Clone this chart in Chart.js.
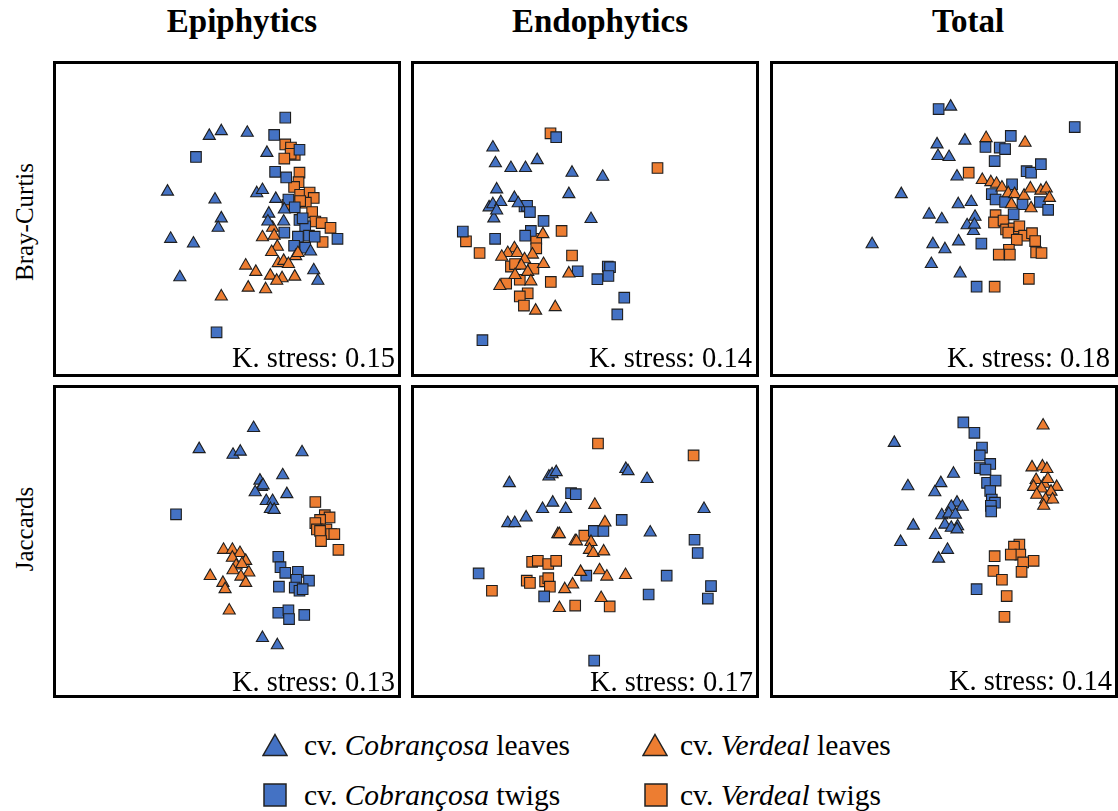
<!DOCTYPE html>
<html>
<head>
<meta charset="utf-8">
<script src="https://cdn.jsdelivr.net/npm/chart.js@4.4.1/dist/chart.umd.min.js"></script>
<style>
  html,body{margin:0;padding:0;background:#fff;}
  #wrap{position:relative;width:1118px;height:811px;overflow:hidden;font-family:'Liberation Serif','Times New Roman',serif;color:#000;}
  .panel{position:absolute;border:3px solid #000;box-sizing:border-box;background:#fff;}
  .panel canvas{display:block;}
  .title{position:absolute;top:5px;font-size:33px;line-height:33px;font-weight:bold;transform:translateX(-50%);white-space:nowrap;}
  .rowlab{position:absolute;font-size:25px;line-height:25px;white-space:nowrap;transform:translate(-50%,-50%) rotate(-90deg);}
  .stress{position:absolute;font-size:28.5px;line-height:28px;white-space:nowrap;text-align:right;}
  .leg{position:absolute;height:30px;display:flex;align-items:center;font-size:29.5px;line-height:30px;white-space:nowrap;}
  .leg svg{margin-right:16px;}
</style>
</head>
<body>
<div id="wrap">
  <div class="title" style="left:242px;">Epiphytics</div>
  <div class="title" style="left:600px;">Endophytics</div>
  <div class="title" style="left:968px;">Total</div>
  <div class="rowlab" style="left:24px;top:222px;">Bray-Curtis</div>
  <div class="rowlab" style="left:24px;top:529px;">Jaccards</div>

  <div class="panel" style="left:53px;top:61px;width:348px;height:316px;"><canvas id="c1" width="342" height="310"></canvas></div>
  <div class="panel" style="left:411px;top:61px;width:348px;height:316px;"><canvas id="c2" width="342" height="310"></canvas></div>
  <div class="panel" style="left:770px;top:61px;width:348px;height:316px;"><canvas id="c3" width="342" height="310"></canvas></div>
  <div class="panel" style="left:53px;top:385px;width:348px;height:313px;"><canvas id="c4" width="342" height="307"></canvas></div>
  <div class="panel" style="left:411px;top:385px;width:348px;height:313px;"><canvas id="c5" width="342" height="307"></canvas></div>
  <div class="panel" style="left:770px;top:385px;width:348px;height:313px;"><canvas id="c6" width="342" height="307"></canvas></div>

  <div class="stress" style="right:723px;top:344px;">K. stress: 0.15</div>
  <div class="stress" style="right:366px;top:344px;">K. stress: 0.14</div>
  <div class="stress" style="right:8px;top:344px;">K. stress: 0.18</div>
  <div class="stress" style="right:723px;top:668px;">K. stress: 0.13</div>
  <div class="stress" style="right:365px;top:668px;">K. stress: 0.17</div>
  <div class="stress" style="right:6px;top:667px;">K. stress: 0.14</div>

  <div class="leg" style="left:262px;top:730px;"><svg width="26" height="24"><polygon points="13,1.5 25,22.5 1,22.5" fill="#4472C4" stroke="#222" stroke-width="1.5"/></svg><span>cv. <i>Cobrançosa</i> leaves</span></div>
  <div class="leg" style="left:642px;top:730px;"><svg width="26" height="24" style="margin-right:12px"><polygon points="13,1.5 25,22.5 1,22.5" fill="#ED7D31" stroke="#222" stroke-width="1.5"/></svg><span>cv. <i>Verdeal</i> leaves</span></div>
  <div class="leg" style="left:263px;top:780px;"><svg width="24" height="24" style="margin-right:17px"><rect x="1" y="1" width="22" height="22" fill="#4472C4" stroke="#222" stroke-width="1.5"/></svg><span>cv. <i>Cobrançosa</i> twigs</span></div>
  <div class="leg" style="left:644px;top:780px;"><svg width="24" height="24" style="margin-right:12px"><rect x="1" y="1" width="22" height="22" fill="#ED7D31" stroke="#222" stroke-width="1.5"/></svg><span>cv. <i>Verdeal</i> twigs</span></div>
</div>

<script>
// NMDS scores (arbitrary units; x 0–102.6, y 0–93)
// Panel 1: Epiphytics / Bray-Curtis
const p1CobLeaves=[[45.7,72.9],[49.5,74.4],[57.7,73.9],[63.9,67.5],[32.5,55.2],[47.5,52.7],[60.7,54.7],[62.5,55.7],[66.7,52.9],[49.5,46.7],[48.5,43.7],[64.5,48.2],[64.2,45.7],[69.2,45.7],[69.4,49.5],[33.5,40.2],[40.7,38.7],[36.4,28.0],[78.7,30.2],[80.0,26.9],[77.7,36.2]];
const p1VerLeaves=[[65.7,43.7],[62.5,40.7],[66.2,41.2],[67.2,37.7],[65.4,36.0],[73.0,34.7],[73.7,35.7],[67.5,32.5],[69.2,33.2],[70.7,32.2],[57.2,31.7],[60.4,29.7],[65.0,28.5],[68.7,27.7],[72.7,28.2],[67.0,26.9],[58.0,24.7],[63.5,24.2],[49.5,21.9]];
const p1CobTwigs=[[69.7,78.7],[66.2,73.2],[41.5,66.2],[74.2,68.5],[66.5,61.5],[70.0,59.7],[70.7,52.7],[72.7,50.2],[74.2,46.2],[76.0,44.2],[69.4,42.2],[73.7,40.9],[77.2,41.2],[79.0,40.9],[72.5,38.0],[76.0,37.4],[86.2,40.2],[48.0,10.5],[75.2,46.7]];
const p1VerTwigs=[[69.7,70.2],[71.5,69.2],[72.7,66.9],[71.4,67.2],[69.4,65.7],[74.2,61.2],[73.9,58.2],[72.5,56.7],[74.4,54.2],[77.4,54.9],[78.7,53.2],[76.2,51.7],[70.4,51.0],[78.2,48.7],[79.2,45.7],[81.2,45.2],[84.0,43.7],[81.5,39.2],[74.4,52.2]];

// Panel 2: Endophytics / Bray-Curtis
const p2CobLeaves=[[22.2,69.2],[23.0,64.2],[27.9,62.7],[32.5,62.7],[36.2,65.2],[47.2,61.2],[56.9,59.9],[23.4,55.9],[46.2,54.4],[21.0,50.2],[22.2,51.2],[24.7,51.9],[29.0,53.2],[30.2,51.5],[22.5,46.7],[53.2,46.5],[23.4,49.2]];
const p2VerLeaves=[[38.0,41.7],[29.0,37.2],[26.9,35.7],[25.0,34.5],[29.9,35.7],[34.7,35.2],[38.2,32.2],[32.2,33.7],[31.2,31.7],[29.2,28.7],[33.2,29.7],[34.2,26.7],[24.4,25.2],[46.2,29.2],[35.7,17.4],[41.9,18.5]];
const p2CobTwigs=[[42.2,72.5],[12.7,42.5],[22.9,40.2],[32.2,50.5],[33.0,50.7],[33.9,48.7],[38.2,45.9],[34.2,42.7],[32.4,41.2],[49.0,29.9],[58.5,31.4],[59.2,31.2],[58.7,28.4],[55.2,27.4],[63.7,21.5],[61.5,16.2],[18.9,8.0]];
const p2VerTwigs=[[40.4,73.7],[74.2,62.7],[43.9,42.7],[13.7,39.4],[18.0,35.7],[35.9,40.2],[35.9,37.2],[47.2,34.9],[27.9,31.4],[29.2,32.2],[35.0,30.7],[30.7,27.2],[26.4,26.0],[40.5,26.5],[33.2,22.9],[30.7,21.9],[32.0,19.0]];

// Panel 3: Total / Bray-Curtis
const p3CobLeaves=[[53.4,82.2],[49.1,70.2],[57.9,71.4],[49.4,66.5],[52.9,66.2],[55.4,60.0],[37.8,54.4],[55.8,51.2],[59.9,51.9],[46.6,47.9],[50.6,46.4],[61.1,47.2],[58.6,44.5],[60.6,42.7],[60.9,44.7],[55.9,39.4],[47.8,38.5],[51.6,36.9],[28.6,38.5],[47.3,32.2],[56.4,29.2]];
const p3VerLeaves=[[64.6,72.2],[76.9,70.7],[63.4,58.9],[66.1,58.2],[67.9,57.7],[69.6,56.5],[71.6,54.7],[73.6,54.4],[76.6,53.9],[78.6,56.2],[81.9,55.5],[83.6,56.2],[84.6,53.2],[78.8,49.9],[72.6,51.2]];
const p3CobTwigs=[[49.6,81.4],[92.6,75.7],[72.4,72.9],[64.4,69.4],[68.9,69.2],[70.6,68.7],[67.3,64.9],[77.4,61.7],[78.8,61.2],[81.9,63.9],[72.8,57.5],[66.4,54.4],[67.6,52.7],[70.6,51.9],[76.1,51.2],[81.6,51.9],[84.2,49.4],[73.3,48.0],[63.1,38.7],[61.6,25.0]];
const p3VerTwigs=[[59.1,61.2],[67.6,47.7],[67.1,45.4],[70.1,46.0],[70.9,43.2],[73.3,43.5],[75.1,44.2],[71.6,42.2],[76.6,41.2],[74.3,39.9],[79.1,42.0],[80.1,39.5],[71.8,36.7],[68.6,35.2],[72.1,35.2],[80.4,35.9],[82.1,35.7],[78.1,27.5],[67.3,25.0]];

// Panel 4: Epiphytics / Jaccards
const p4CobLeaves=[[59.7,82.1],[42.5,75.4],[53.2,73.6],[55.5,74.6],[75.0,74.4],[68.9,67.1],[61.7,65.4],[62.2,63.4],[62.7,63.9],[60.2,61.7],[70.2,61.1],[63.7,58.9],[65.7,58.9],[65.0,56.4],[66.2,56.1],[62.5,15.4],[67.2,13.1]];
const p4VerLeaves=[[50.2,43.4],[53.0,43.4],[55.4,42.4],[53.0,40.9],[57.2,39.9],[54.2,38.4],[56.0,38.9],[58.2,36.2],[53.2,36.9],[55.7,34.9],[57.2,32.9],[46.0,35.1],[50.0,32.9],[50.7,30.9],[52.0,24.1]];
const p4CobTwigs=[[35.2,54.7],[67.5,41.2],[68.2,37.9],[69.7,36.1],[73.7,36.4],[73.2,33.9],[77.2,33.6],[72.7,31.4],[74.2,30.4],[75.2,30.9],[67.7,31.7],[67.5,23.4],[70.7,24.2],[70.9,21.4],[75.7,22.7]];
const p4VerTwigs=[[79.2,58.6],[82.2,54.4],[83.7,53.7],[80.7,52.9],[79.2,51.9],[79.7,49.9],[82.7,49.9],[80.7,49.4],[84.2,48.4],[85.2,48.4],[81.0,46.2],[86.5,43.4]];

// Panel 5: Endophytics / Jaccards
const p5CobLeaves=[[27.4,64.6],[39.9,66.7],[40.9,67.4],[42.2,68.1],[37.9,56.4],[41.1,58.4],[45.2,56.4],[32.7,53.7],[26.9,51.9],[29.1,51.9],[64.2,69.1],[64.9,68.4],[70.9,65.9],[88.9,56.4],[71.9,48.9]];
const p5VerLeaves=[[54.4,57.7],[57.6,52.1],[42.7,48.4],[43.2,48.4],[48.2,46.2],[48.6,46.1],[53.2,45.9],[52.7,43.4],[53.9,42.4],[57.2,42.9],[49.9,36.4],[55.9,36.9],[58.2,34.9],[64.1,35.4],[47.4,32.4],[44.9,30.9],[56.4,28.1],[43.2,24.9]];
const p5CobTwigs=[[46.9,61.4],[48.4,61.1],[62.9,52.9],[54.1,49.4],[57.1,49.4],[85.9,46.6],[86.9,42.4],[17.7,35.9],[51.7,35.2],[77.1,35.2],[91.1,31.9],[90.1,27.9],[71.4,29.2],[38.4,28.6],[54.2,8.2]];
const p5VerTwigs=[[55.4,77.2],[85.6,73.4],[51.1,47.9],[34.6,39.6],[36.4,39.9],[39.7,38.9],[42.2,39.9],[32.9,33.6],[33.9,32.9],[38.7,33.4],[39.7,34.4],[40.2,31.7],[21.9,30.4],[48.2,25.7],[59.1,25.4]];

// Panel 6: Total / Jaccards
const p6CobLeaves=[[35.6,77.4],[39.9,63.6],[54.3,67.6],[50.3,64.6],[48.4,61.7],[55.4,58.4],[57.1,57.1],[53.6,57.1],[50.6,54.4],[52.8,54.9],[54.9,54.6],[55.6,50.9],[51.6,51.4],[53.6,50.4],[55.4,49.9],[41.6,51.1],[48.6,48.1],[37.6,45.9],[52.4,43.4],[49.6,40.6]];
const p6VerLeaves=[[82.6,82.9],[79.1,69.6],[82.4,69.9],[83.8,69.1],[80.4,65.6],[82.9,64.4],[84.1,65.9],[86.9,63.4],[79.6,63.4],[82.1,62.9],[85.1,61.9],[83.4,59.4],[85.6,59.4],[82.8,57.4],[80.6,60.9]];
const p6CobTwigs=[[57.4,83.9],[60.9,80.6],[63.3,75.9],[62.6,73.4],[65.9,70.7],[62.6,69.4],[64.4,68.9],[64.9,64.7],[67.6,65.4],[65.9,62.1],[66.4,59.4],[67.4,58.4],[66.1,57.4],[66.2,55.6],[61.6,30.9]];
const p6VerTwigs=[[75.1,45.1],[73.4,44.4],[75.4,41.9],[72.4,41.9],[79.6,39.9],[76.3,39.4],[67.3,41.4],[66.9,36.7],[75.8,36.4],[69.6,33.9],[71.1,28.7],[70.4,22.1]];

const blue='#4472C4', orange='#ED7D31', edge='#1e1e1e';
const xRange=[0,102.6];
const yRangeTop=[0,93], yRangeBottom=[0,92.1];

function ds(label,pairs,color,shape){
  const r = shape==='rect'?7.5:7;
  return {
    label:label,
    data:pairs.map(p=>({x:p[0],y:p[1]})),
    backgroundColor:color,
    borderColor:edge,
    borderWidth:1.1,
    pointStyle:shape,
    pointRadius:r,
    pointHoverRadius:r,
    clip:false
  };
}
function makeChart(id,cl,vl,ct,vt,yr){
  new Chart(document.getElementById(id),{
    type:'scatter',
    data:{datasets:[
      ds('cv. Cobrançosa leaves',cl,blue,'triangle'),
      ds('cv. Verdeal leaves',vl,orange,'triangle'),
      ds('cv. Cobrançosa twigs',ct,blue,'rect'),
      ds('cv. Verdeal twigs',vt,orange,'rect')
    ]},
    options:{
      responsive:false,animation:false,
      layout:{padding:0},
      plugins:{legend:{display:false},tooltip:{enabled:false}},
      scales:{
        x:{type:'linear',min:xRange[0],max:xRange[1],display:false},
        y:{type:'linear',min:yr[0],max:yr[1],display:false}
      }
    }
  });
}
makeChart('c1',p1CobLeaves,p1VerLeaves,p1CobTwigs,p1VerTwigs,yRangeTop);
makeChart('c2',p2CobLeaves,p2VerLeaves,p2CobTwigs,p2VerTwigs,yRangeTop);
makeChart('c3',p3CobLeaves,p3VerLeaves,p3CobTwigs,p3VerTwigs,yRangeTop);
makeChart('c4',p4CobLeaves,p4VerLeaves,p4CobTwigs,p4VerTwigs,yRangeBottom);
makeChart('c5',p5CobLeaves,p5VerLeaves,p5CobTwigs,p5VerTwigs,yRangeBottom);
makeChart('c6',p6CobLeaves,p6VerLeaves,p6CobTwigs,p6VerTwigs,yRangeBottom);
</script>
</body>
</html>
